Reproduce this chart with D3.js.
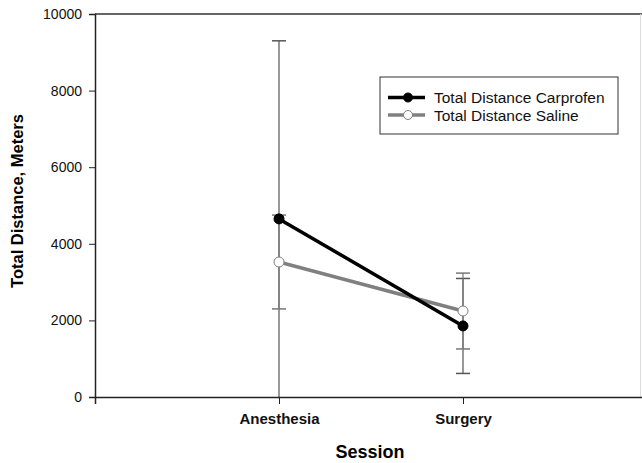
<!DOCTYPE html>
<html>
<head>
<meta charset="utf-8">
<script src="https://cdn.jsdelivr.net/npm/d3@7"></script>
<style>
  body { margin: 0; background: #fff; }
  text { font-family: Arial, "Liberation Sans", sans-serif; }
</style>
</head>
<body>
<div class="chart"></div>
<script>
var sessions = ["Anesthesia", "Surgery"];
var carprofenMean = [4650, 1855];
var carprofenSD = [4650, 1240];
var salineMean = [3525, 2245];
var salineSD = [1225, 990];
var yTicks = [0, 2000, 4000, 6000, 8000, 10000];

function init() {
  var w = 642;
  var h = 463;
  var left = 95, top = 14, right = 647, bottom = 397;

  var svg = d3.select(".chart")
    .append("svg")
    .attr("width", w)
    .attr("height", h);

  var xScale = d3.scalePoint()
    .domain(sessions)
    .range([left, right])
    .padding(1);

  var yScale = d3.scaleLinear()
    .domain([0, 10000])
    .range([bottom, top]);

  var series = [
    { name: "Total Distance Carprofen", mean: carprofenMean, sd: carprofenSD, color: "#000", fill: "#000", bar: "#555" },
    { name: "Total Distance Saline", mean: salineMean, sd: salineSD, color: "#808080", fill: "#fff", bar: "#777" }
  ];

  // frame
  svg.append("line")
    .attr("x1", left).attr("x2", right)
    .attr("y1", top).attr("y2", top)
    .attr("stroke", "#333").attr("stroke-width", 1.5);

  svg.append("line")
    .attr("x1", 640.5).attr("x2", 640.5)
    .attr("y1", top).attr("y2", bottom)
    .attr("stroke", "#ddd").attr("stroke-width", 1);

  // error bars
  series.forEach(function(s) {
    var g = svg.append("g");
    sessions.forEach(function(c, i) {
      var lo = Math.max(0, s.mean[i] - s.sd[i]);
      var hi = s.mean[i] + s.sd[i];
      var x = xScale(c);
      g.append("line")
        .attr("x1", x).attr("x2", x)
        .attr("y1", yScale(lo)).attr("y2", yScale(hi))
        .attr("stroke", s.bar).attr("stroke-width", 1.2);
      [lo, hi].forEach(function(v) {
        if (v <= 0) return;
        g.append("line")
          .attr("x1", x - 7).attr("x2", x + 7)
          .attr("y1", yScale(v)).attr("y2", yScale(v))
          .attr("stroke", s.bar).attr("stroke-width", 1.5);
      });
    });
  });

  var line = d3.line()
    .x(function(d, i) { return xScale(sessions[i]); })
    .y(function(d) { return yScale(d); });

  // saline first so carprofen sits on top
  [series[1], series[0]].forEach(function(s) {
    svg.append("path")
      .datum(s.mean)
      .attr("d", line)
      .attr("fill", "none")
      .attr("stroke", s.color)
      .attr("stroke-width", 3.5);

    svg.selectAll(null)
      .data(s.mean)
      .enter()
      .append("circle")
      .attr("cx", function(d, i) { return xScale(sessions[i]); })
      .attr("cy", function(d) { return yScale(d); })
      .attr("r", 5)
      .attr("fill", s.fill)
      .attr("stroke", s.color)
      .attr("stroke-width", 1);
  });

  // axes
  var yAxis = d3.axisLeft(yScale)
    .tickValues(yTicks)
    .tickSize(6)
    .tickPadding(7)
    .tickFormat(d3.format("d"));

  var gy = svg.append("g")
    .attr("transform", "translate(" + left + ",0)")
    .call(yAxis);
  gy.select(".domain").attr("stroke", "#222").attr("stroke-width", 1.5);
  gy.selectAll(".tick line").attr("stroke", "#222");
  gy.selectAll(".tick text")
    .attr("font-size", "14px")
    .attr("fill", "#111")
    .style("font-family", "Arial, 'Liberation Sans', sans-serif");

  var xAxis = d3.axisBottom(xScale)
    .tickSize(7)
    .tickPadding(9);

  var gx = svg.append("g")
    .attr("transform", "translate(0," + bottom + ")")
    .call(xAxis);
  gx.select(".domain").attr("stroke", "#222").attr("stroke-width", 1.5);
  gx.selectAll(".tick line").attr("stroke", "#222");
  gx.selectAll(".tick text")
    .attr("font-size", "15px")
    .attr("font-weight", "bold")
    .attr("fill", "#111")
    .style("font-family", "Arial, 'Liberation Sans', sans-serif");

  // axis titles
  svg.append("text")
    .attr("x", 370)
    .attr("y", 458)
    .attr("text-anchor", "middle")
    .attr("font-size", "18px")
    .attr("font-weight", "bold")
    .text("Session");

  svg.append("text")
    .attr("transform", "rotate(-90)")
    .attr("x", -201)
    .attr("y", 23)
    .attr("text-anchor", "middle")
    .attr("font-size", "16.5px")
    .attr("font-weight", "bold")
    .text("Total Distance, Meters");

  // legend
  var legend = svg.append("g")
    .attr("transform", "translate(380,77)");

  legend.append("rect")
    .attr("x", 0).attr("y", 0)
    .attr("width", 238).attr("height", 57)
    .attr("fill", "#fff")
    .attr("stroke", "#333")
    .attr("stroke-width", 1);

  var item = legend.selectAll(".legend-item")
    .data(series)
    .enter()
    .append("g")
    .attr("class", "legend-item")
    .attr("transform", function(d, i) {
      return "translate(0," + (20.5 + i * 17.5) + ")";
    });

  item.append("line")
    .attr("x1", 8).attr("x2", 45)
    .attr("y1", 0).attr("y2", 0)
    .attr("stroke", function(d) { return d.color; })
    .attr("stroke-width", 3.5);

  item.append("circle")
    .attr("cx", 28).attr("cy", 0)
    .attr("r", 4.5)
    .attr("fill", function(d) { return d.fill; })
    .attr("stroke", function(d) { return d.color; });

  item.append("text")
    .attr("x", 54)
    .attr("y", 5.5)
    .attr("font-size", "15.5px")
    .attr("fill", "#111")
    .text(function(d) { return d.name; });
}

window.onload = init;
</script>
</body>
</html>
